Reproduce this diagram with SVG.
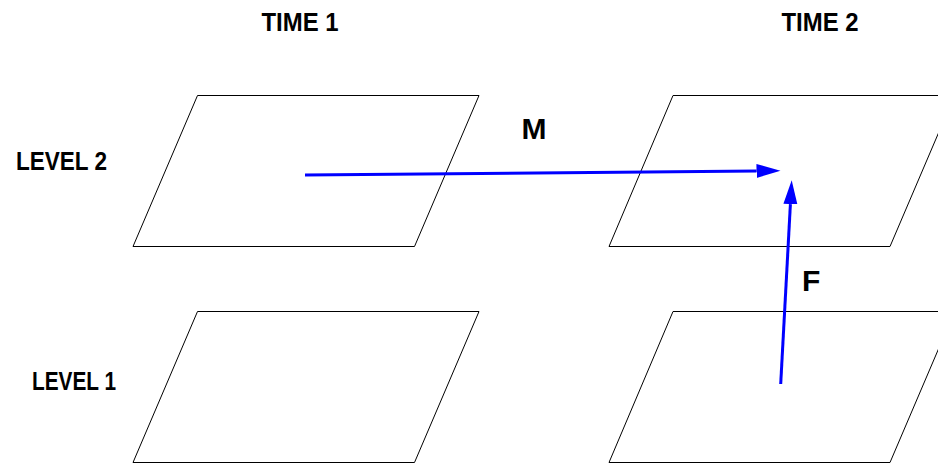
<svg xmlns="http://www.w3.org/2000/svg" width="938" height="463" viewBox="0 0 938 463">
  <style>
    .plane { fill: #ffffff; stroke: #000000; stroke-width: 1; }
    .lbl { font-family: "Liberation Sans", Arial, sans-serif; font-weight: bold; font-size: 25px; fill: #000000; }
    .big { font-size: 30px; }
    .conn { stroke: #0000ff; stroke-width: 3; fill: none; marker-end: url(#arrow); }
  </style>
  <defs>
    <marker id="arrow" markerUnits="userSpaceOnUse" markerWidth="26" markerHeight="16" viewBox="0 -8 26 16" refX="0" refY="0" orient="auto">
      <path d="M0,-7 L24,0 L0,7 Z" fill="#0000ff"/>
    </marker>
  </defs>
  <rect width="938" height="463" fill="#ffffff"/>

  <g id="header-time1"><text class="lbl" x="300" y="31" text-anchor="middle" textLength="77" lengthAdjust="spacingAndGlyphs">TIME 1</text></g>
  <g id="header-time2"><text class="lbl" x="820" y="31" text-anchor="middle" textLength="77" lengthAdjust="spacingAndGlyphs">TIME 2</text></g>
  <g id="label-level2"><text class="lbl" x="16" y="169.5" textLength="91" lengthAdjust="spacingAndGlyphs">LEVEL 2</text></g>
  <g id="label-level1"><text class="lbl" x="32" y="390" textLength="84" lengthAdjust="spacingAndGlyphs">LEVEL 1</text></g>

  <g id="plane-t1-l2"><polygon class="plane" points="197.5,95.5 479,95.5 414.5,246.5 133,246.5"/></g>
  <g id="plane-t2-l2"><polygon class="plane" points="673,95.5 954.5,95.5 890,246.5 609,246.5"/></g>
  <g id="plane-t1-l1"><polygon class="plane" points="197.5,311.5 479,311.5 414.5,462.5 133,462.5"/></g>
  <g id="plane-t2-l1"><polygon class="plane" points="673,311.5 954.5,311.5 890,462.5 609,462.5"/></g>

  <g id="connectors">
    <line class="conn" x1="305" y1="175" x2="756.5" y2="170.9"/>
    <line class="conn" x1="780.7" y1="384" x2="790.4" y2="204.1"/>
    <text class="lbl big" x="521.5" y="139">M</text>
    <text class="lbl big" x="802" y="291">F</text>
  </g>
</svg>
